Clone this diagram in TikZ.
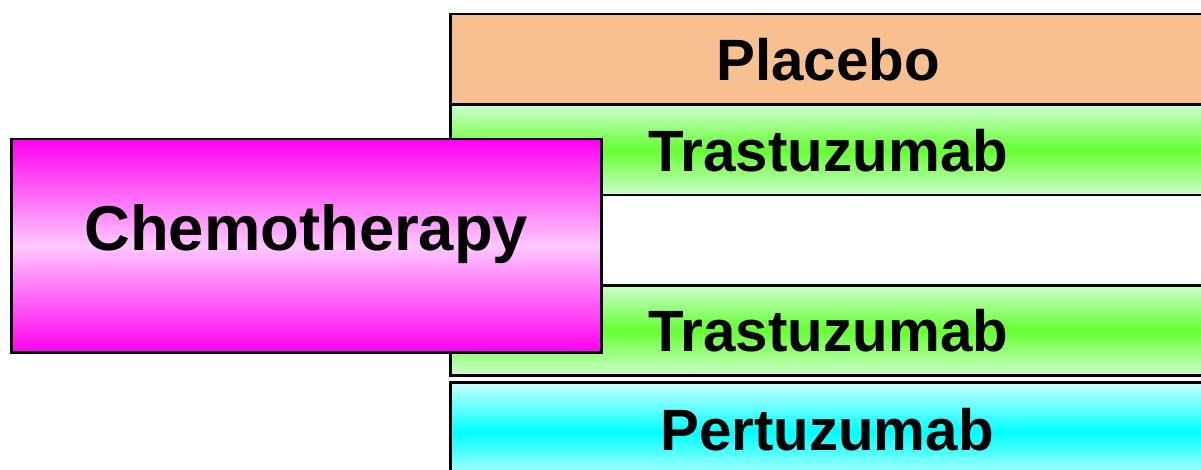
\documentclass[tikz,border=0pt]{standalone}
\usepackage{fontspec}
\setmainfont{Liberation Sans}
\definecolor{orangefill}{RGB}{248,192,144}
\definecolor{greenlight}{RGB}{204,255,204}
\definecolor{greenmid}{RGB}{102,255,51}
\definecolor{cyanlight}{RGB}{204,255,255}
\definecolor{cyanmid}{RGB}{0,255,255}
\definecolor{magmid}{RGB}{255,200,255}
\definecolor{magedge}{RGB}{255,0,240}
\begin{document}
\begin{tikzpicture}[x=1pt,y=-1pt,
  lbl/.style={font=\fontsize{58.3}{60}\selectfont\bfseries},
  band/.style={rectangle, draw=black, line width=2.5pt, minimum width=760pt, minimum height=90pt, inner sep=0pt, anchor=north west},
  greenband/.style={band, top color=greenlight, bottom color=greenlight, middle color=greenmid},
  cyanband/.style={band, top color=cyanlight, bottom color=cyanlight, middle color=cyanmid},
  chemobox/.style={rectangle, draw=black, line width=2.5pt, minimum width=590pt, minimum height=213pt, inner sep=0pt, anchor=north west,
    top color=magedge, bottom color=magedge, middle color=magmid}]
\useasboundingbox (0,0) rectangle (1201,470);
\clip (0,0) rectangle (1201,470);
\fill[white] (0,0) rectangle (1201,470);
\node[band, fill=orangefill] (placebo) at (449,13) {};
\node[greenband] (tras1) at (449,104) {};
\node[band, fill=white] (gap) at (449,194) {};
\node[greenband] (tras2) at (449,284) {};
\node[cyanband, minimum height=100pt] (pertu) at (449,381) {};
\node[chemobox] (chemo) at (10,138) {};
\node[font=\fontsize{63.4}{66}\selectfont\bfseries] (chemotext) at ([yshift=12pt]chemo.center) {Chemotherapy};
\node[lbl] (placebotext) at ([xshift=-2pt]placebo.center) {Placebo};
\node[lbl] (tras1text) at ([xshift=-2pt]tras1.center) {Trastuzumab};
\node[lbl] (tras2text) at ([xshift=-2pt]tras2.center) {Trastuzumab};
\node[lbl] (pertutext) at (827,430) {Pertuzumab};
\end{tikzpicture}
\end{document}
